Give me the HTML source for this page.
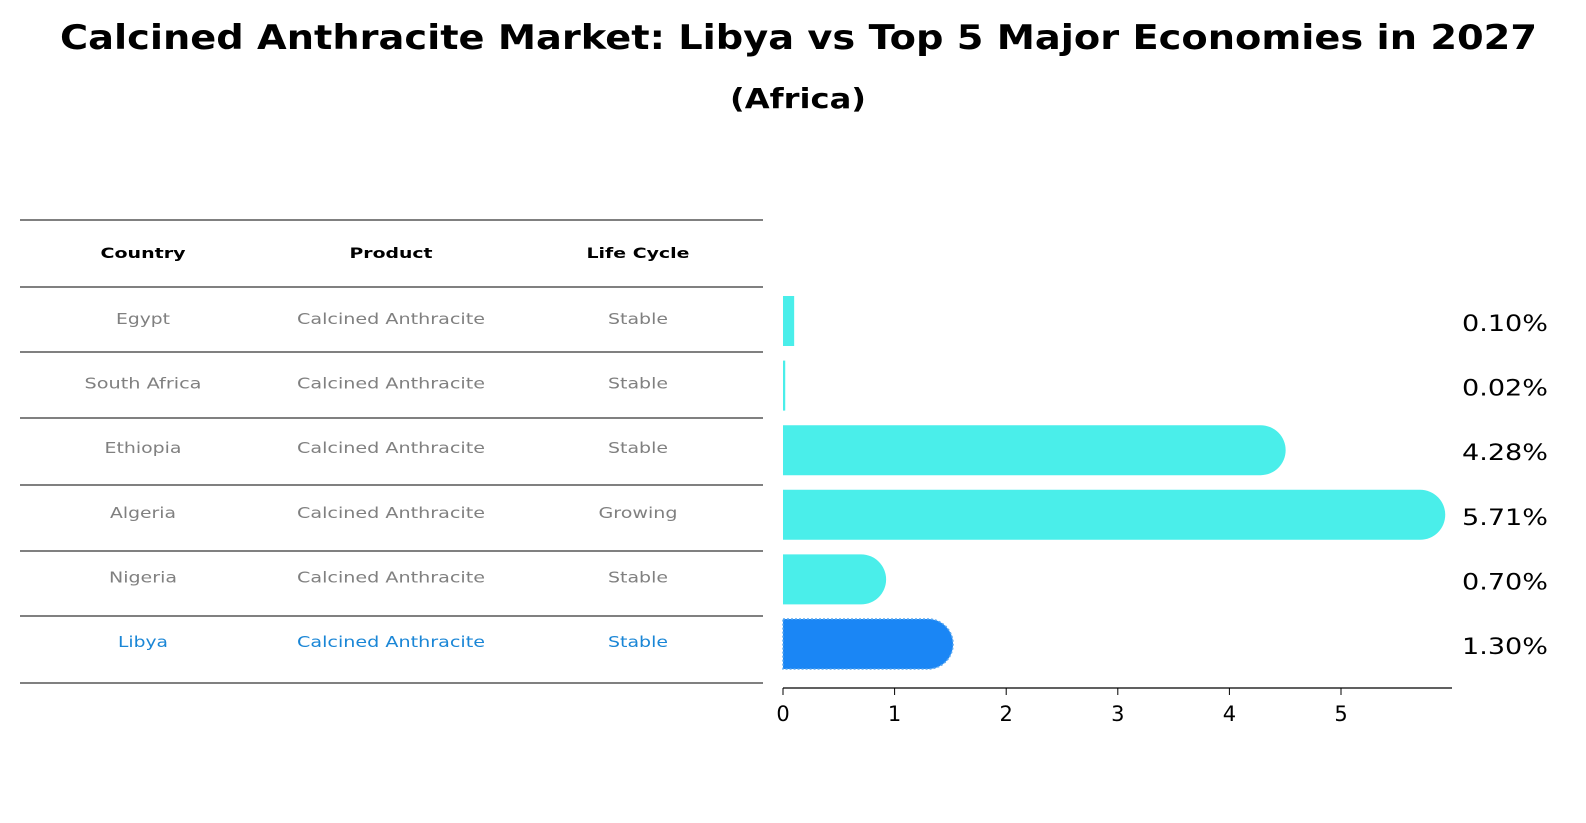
<!DOCTYPE html>
<html><head><meta charset="utf-8"><style>
html,body{margin:0;padding:0;background:#fff;overflow:hidden;width:1586px;height:823px;}
#wrap{position:relative;width:1586px;height:823px;overflow:hidden;}
svg text{font-family:"DejaVu Sans","Liberation Sans",sans-serif;}
</style></head><body>
<div id="wrap">
<svg id="svg" width="1586" height="823" style="position:absolute;left:0;top:0">
<text x="60" y="49" font-size="34" font-weight="bold" textLength="1477" lengthAdjust="spacingAndGlyphs">Calcined Anthracite Market: Libya vs Top 5 Major Economies in 2027</text>
<text x="730" y="108" font-size="28" font-weight="bold" textLength="136" lengthAdjust="spacingAndGlyphs">(Africa)</text>
</svg>
</div>
<script>
const countries=["Egypt","South Africa","Ethiopia","Algeria","Nigeria","Libya"];
const products=["Calcined Anthracite","Calcined Anthracite","Calcined Anthracite","Calcined Anthracite","Calcined Anthracite","Calcined Anthracite"];
const lifeCycles=["Stable","Stable","Stable","Growing","Stable","Stable"];
const values=[0.10,0.02,4.28,5.71,0.70,1.30];
const valueLabels=["0.10%","0.02%","4.28%","5.71%","0.70%","1.30%"];
const ticks=[0,1,2,3,4,5];
const headers=["Country","Product","Life Cycle"];
const NS="http://www.w3.org/2000/svg";
const svg=document.getElementById('svg');
const W={"Country":85,"Product":83,"Life Cycle":103,"Egypt":54,"South Africa":117,"Ethiopia":77,"Algeria":66,"Nigeria":68,"Libya":50,"Calcined Anthracite":188,"Stable":60,"Growing":79};
function mk(tag,attrs,txt){const e=document.createElementNS(NS,tag);for(const k in attrs)e.setAttribute(k,attrs[k]);if(txt!==undefined)e.textContent=txt;svg.appendChild(e);return e;}
const x=v=>783+v*111.6;
const rowY=i=>321+i*64.6;
const colX=[143,391,638];
const lines=[220,287,352,418,485,551,616,683];
lines.forEach(y=>{const l=mk('line',{x1:20,x2:763,y1:y,y2:y,stroke:'#000','stroke-width':1});

});
headers.forEach((h,j)=>{const t=mk('text',{x:colX[j],y:258,'text-anchor':'middle','font-size':14,'font-weight':'bold',textLength:W[h],lengthAdjust:'spacingAndGlyphs'},h);

});
countries.forEach((c,i)=>{
 const col=i===5?'#1a86d6':'#808080';
 const y=rowY(i)-2;
 [c,products[i],lifeCycles[i]].forEach((s,j)=>{const t=mk('text',{x:colX[j],y:y+5,'text-anchor':'middle','font-size':15,fill:col,textLength:W[s],lengthAdjust:'spacingAndGlyphs'},s);
 
 });
 const v=values[i],h=50,yt=rowY(i)-25;
 const fill=i===5?'#1a86f5':'#4aeeea';
 const w=x(v)-x(0);
 let b;
 if(v>=0.5){
  b=mk('path',{d:`M${x(0)},${yt}H${x(v)}A25,25 0 0 1 ${x(v)},${yt+h}H${x(0)}Z`,fill:fill});
 } else {
  b=mk('rect',{x:x(0),y:yt,width:Math.max(w,1.5),height:h,fill:fill});
 }
 if(i===5){b.setAttribute('stroke','#5aa8f0');b.setAttribute('stroke-dasharray','2,2');b.setAttribute('stroke-width','1.5');}
 
 
 const lt=mk('text',{x:1462,y:rowY(i)+10,'font-size':22,textLength:86,lengthAdjust:'spacingAndGlyphs'},valueLabels[i]);
 
 
});
const ax=mk('line',{x1:783,x2:1452,y1:688,y2:688,stroke:'#000','stroke-width':1.2});


ticks.forEach(v=>{const tk=mk('line',{x1:x(v),x2:x(v),y1:688,y2:695,stroke:'#000'});


const tl=mk('text',{x:x(v),y:721,'text-anchor':'middle','font-size':21},String(v));

});
</script>
</body></html>
